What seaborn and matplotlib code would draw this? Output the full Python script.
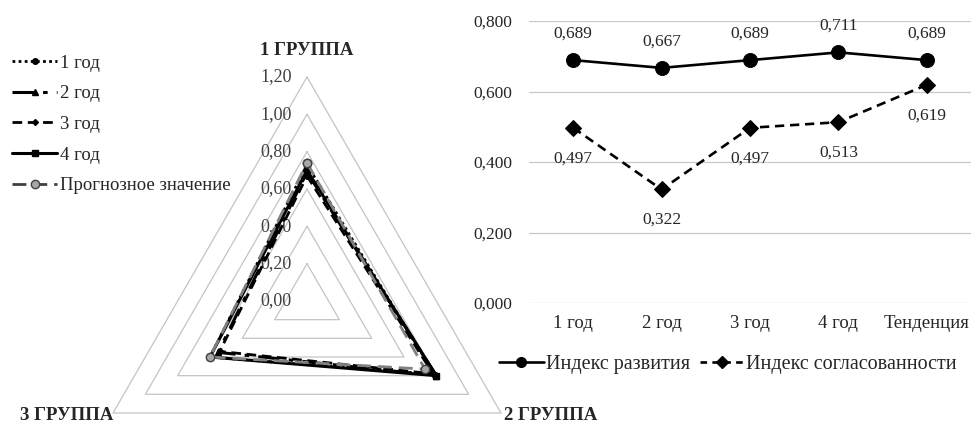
import numpy as np
import pandas as pd
import seaborn as sns
import matplotlib
matplotlib.use("Agg")
from matplotlib import pyplot as plt
from matplotlib.lines import Line2D

# radar data
groups = ["1 ГРУППА", "2 ГРУППА", "3 ГРУППА"]
year1 = [0.73, 0.79, 0.60]
year2 = [0.69, 0.80, 0.55]
year3 = [0.67, 0.78, 0.54]
year4 = [0.70, 0.80, 0.60]
forecast = [0.74, 0.73, 0.60]
radar_levels = [0.0, 0.2, 0.4, 0.6, 0.8, 1.0, 1.2]

# line chart data
periods = ["1 год", "2 год", "3 год", "4 год", "Тенденция"]
dev_index = [0.689, 0.667, 0.689, 0.711, 0.689]
cons_index = [0.497, 0.322, 0.497, 0.513, 0.619]
y_ticks = [0.0, 0.2, 0.4, 0.6, 0.8]

sns.set_theme(style="white")
plt.rcParams["font.family"] = ["Liberation Serif", "DejaVu Serif"]
FS = 12.5


def fmt(v, nd):
    return f"{v:.{nd}f}".replace(".", ",")


fig = plt.figure(figsize=(9.73, 4.26), dpi=100)

# ---- radar ----
W, H = 973, 426
cx, cy, R = 307, 301, 224
ax_r = fig.add_axes([(cx - R) / W, (H - cy - R) / H, 2 * R / W, 2 * R / H],
                    projection="polar")
ax_r.set_theta_offset(np.pi / 2)
ax_r.set_theta_direction(-1)
ax_r.set_ylim(0, 1.2)
ax_r.set_xticks([])
ax_r.set_yticks([])
ax_r.grid(False)
ax_r.spines["polar"].set_visible(False)
ax_r.patch.set_alpha(0)

theta = np.linspace(0, 2 * np.pi, len(groups), endpoint=False)
theta_c = np.append(theta, theta[0])

for lev in radar_levels[1:]:
    ax_r.plot(theta_c, [lev] * len(theta_c), color="#c4c4c4", lw=0.9,
              zorder=1, clip_on=False)
for lev in radar_levels:
    ax_r.annotate(fmt(lev, 2), (0, lev), xytext=(-11, 0),
                  textcoords="offset points", ha="right", va="center",
                  fontsize=13, color="#404040")

styles = [
    ("1 год", year1, dict(color="black", ls=(0, (1, 1.2)), lw=2,
                          marker="o", ms=4)),
    ("2 год", year2, dict(color="black", ls=(0, (7, 3, 1.5, 3)), lw=2.2,
                          marker="^", ms=4)),
    ("3 год", year3, dict(color="black", ls=(0, (3.5, 2)), lw=2,
                          marker="D", ms=3)),
    ("4 год", year4, dict(color="black", ls="-", lw=2.2,
                          marker="s", ms=4)),
    ("Прогнозное значение", forecast,
     dict(color="#808080", ls=(0, (5, 2.5)), lw=2, marker="o", ms=6,
          mfc="#a6a6a6", mec="#404040")),
]
handles = []
for name, vals, kw in styles:
    v = np.append(vals, vals[0])
    ax_r.plot(theta_c, v, zorder=3, clip_on=False, **kw)
    hk = dict(kw)
    if name.startswith("Прогноз"):
        hk["color"] = "#404040"
    handles.append(Line2D([], [], label=name, **hk))

ax_r.annotate(groups[0], (theta[0], 1.2), xytext=(0, 19),
              textcoords="offset points", ha="center", va="center",
              fontsize=13.5, fontweight="bold")
ax_r.annotate(groups[1], (theta[1], 1.2), xytext=(2, -2),
              textcoords="offset points", ha="left", va="center",
              fontsize=13.5, fontweight="bold")
ax_r.annotate(groups[2], (theta[2], 1.2), xytext=(0, -2),
              textcoords="offset points", ha="right", va="center",
              fontsize=13.5, fontweight="bold")

fig.legend(handles=handles, loc="upper left",
           bbox_to_anchor=(0.005, 1 - 47 / H), frameon=False, fontsize=13.5,
           handlelength=2.4, handletextpad=0.15, labelspacing=0.72,
           borderaxespad=0)

# ---- line chart ----
ax = fig.add_axes([529 / W, 123 / H, 442 / W, 282 / H])
df = pd.DataFrame({"period": periods * 2,
                   "value": dev_index + cons_index,
                   "series": ["Индекс развития"] * len(periods)
                   + ["Индекс согласованности"] * len(periods)})
sns.lineplot(data=df, x="period", y="value", hue="series", style="series",
             palette=["black", "black"], markers=["o", "D"],
             dashes=["", (3.5, 2.2)], markersize=10, lw=1.9, sort=False,
             markeredgecolor="black", legend=False, ax=ax, zorder=3)
# diamonds a bit smaller than circles
ax.lines[1].set_markersize(8)

for i, v in enumerate(dev_index):
    ax.annotate(fmt(v, 3), (i, v), xytext=(0, 19), textcoords="offset points",
                ha="center", va="center", fontsize=FS)
for i, v in enumerate(cons_index):
    ax.annotate(fmt(v, 3), (i, v), xytext=(0, -22), textcoords="offset points",
                ha="center", va="center", fontsize=FS)

ax.set_xlim(-0.5, len(periods) - 0.5)
ax.set_ylim(0, 0.8)
ax.set_yticks(y_ticks)
ax.set_yticklabels([fmt(t, 3) for t in y_ticks], fontsize=FS)
ax.tick_params(axis="x", labelsize=13.5, pad=9, length=0)
ax.tick_params(axis="y", pad=12, length=0)
ax.set_xlabel("")
ax.set_ylabel("")
ax.grid(axis="y", color="#c8c8c8", lw=0.9)
ax.set_axisbelow(True)
for s in ax.spines.values():
    s.set_visible(False)
ax.patch.set_alpha(0)

lh = [Line2D([], [], color="black", lw=1.9, marker="o", ms=7,
             label="Индекс развития"),
      Line2D([], [], color="black", lw=1.9, ls=(0, (2.5, 2)), marker="D",
             ms=6, label="Индекс согласованности")]
fig.legend(handles=lh, loc="center", ncol=2,
           bbox_to_anchor=(728 / W, 1 - 364 / H), frameon=False,
           fontsize=14.5, handlelength=2.2, handletextpad=0.1,
           columnspacing=0.5)

fig.savefig("out.png", dpi=100)
